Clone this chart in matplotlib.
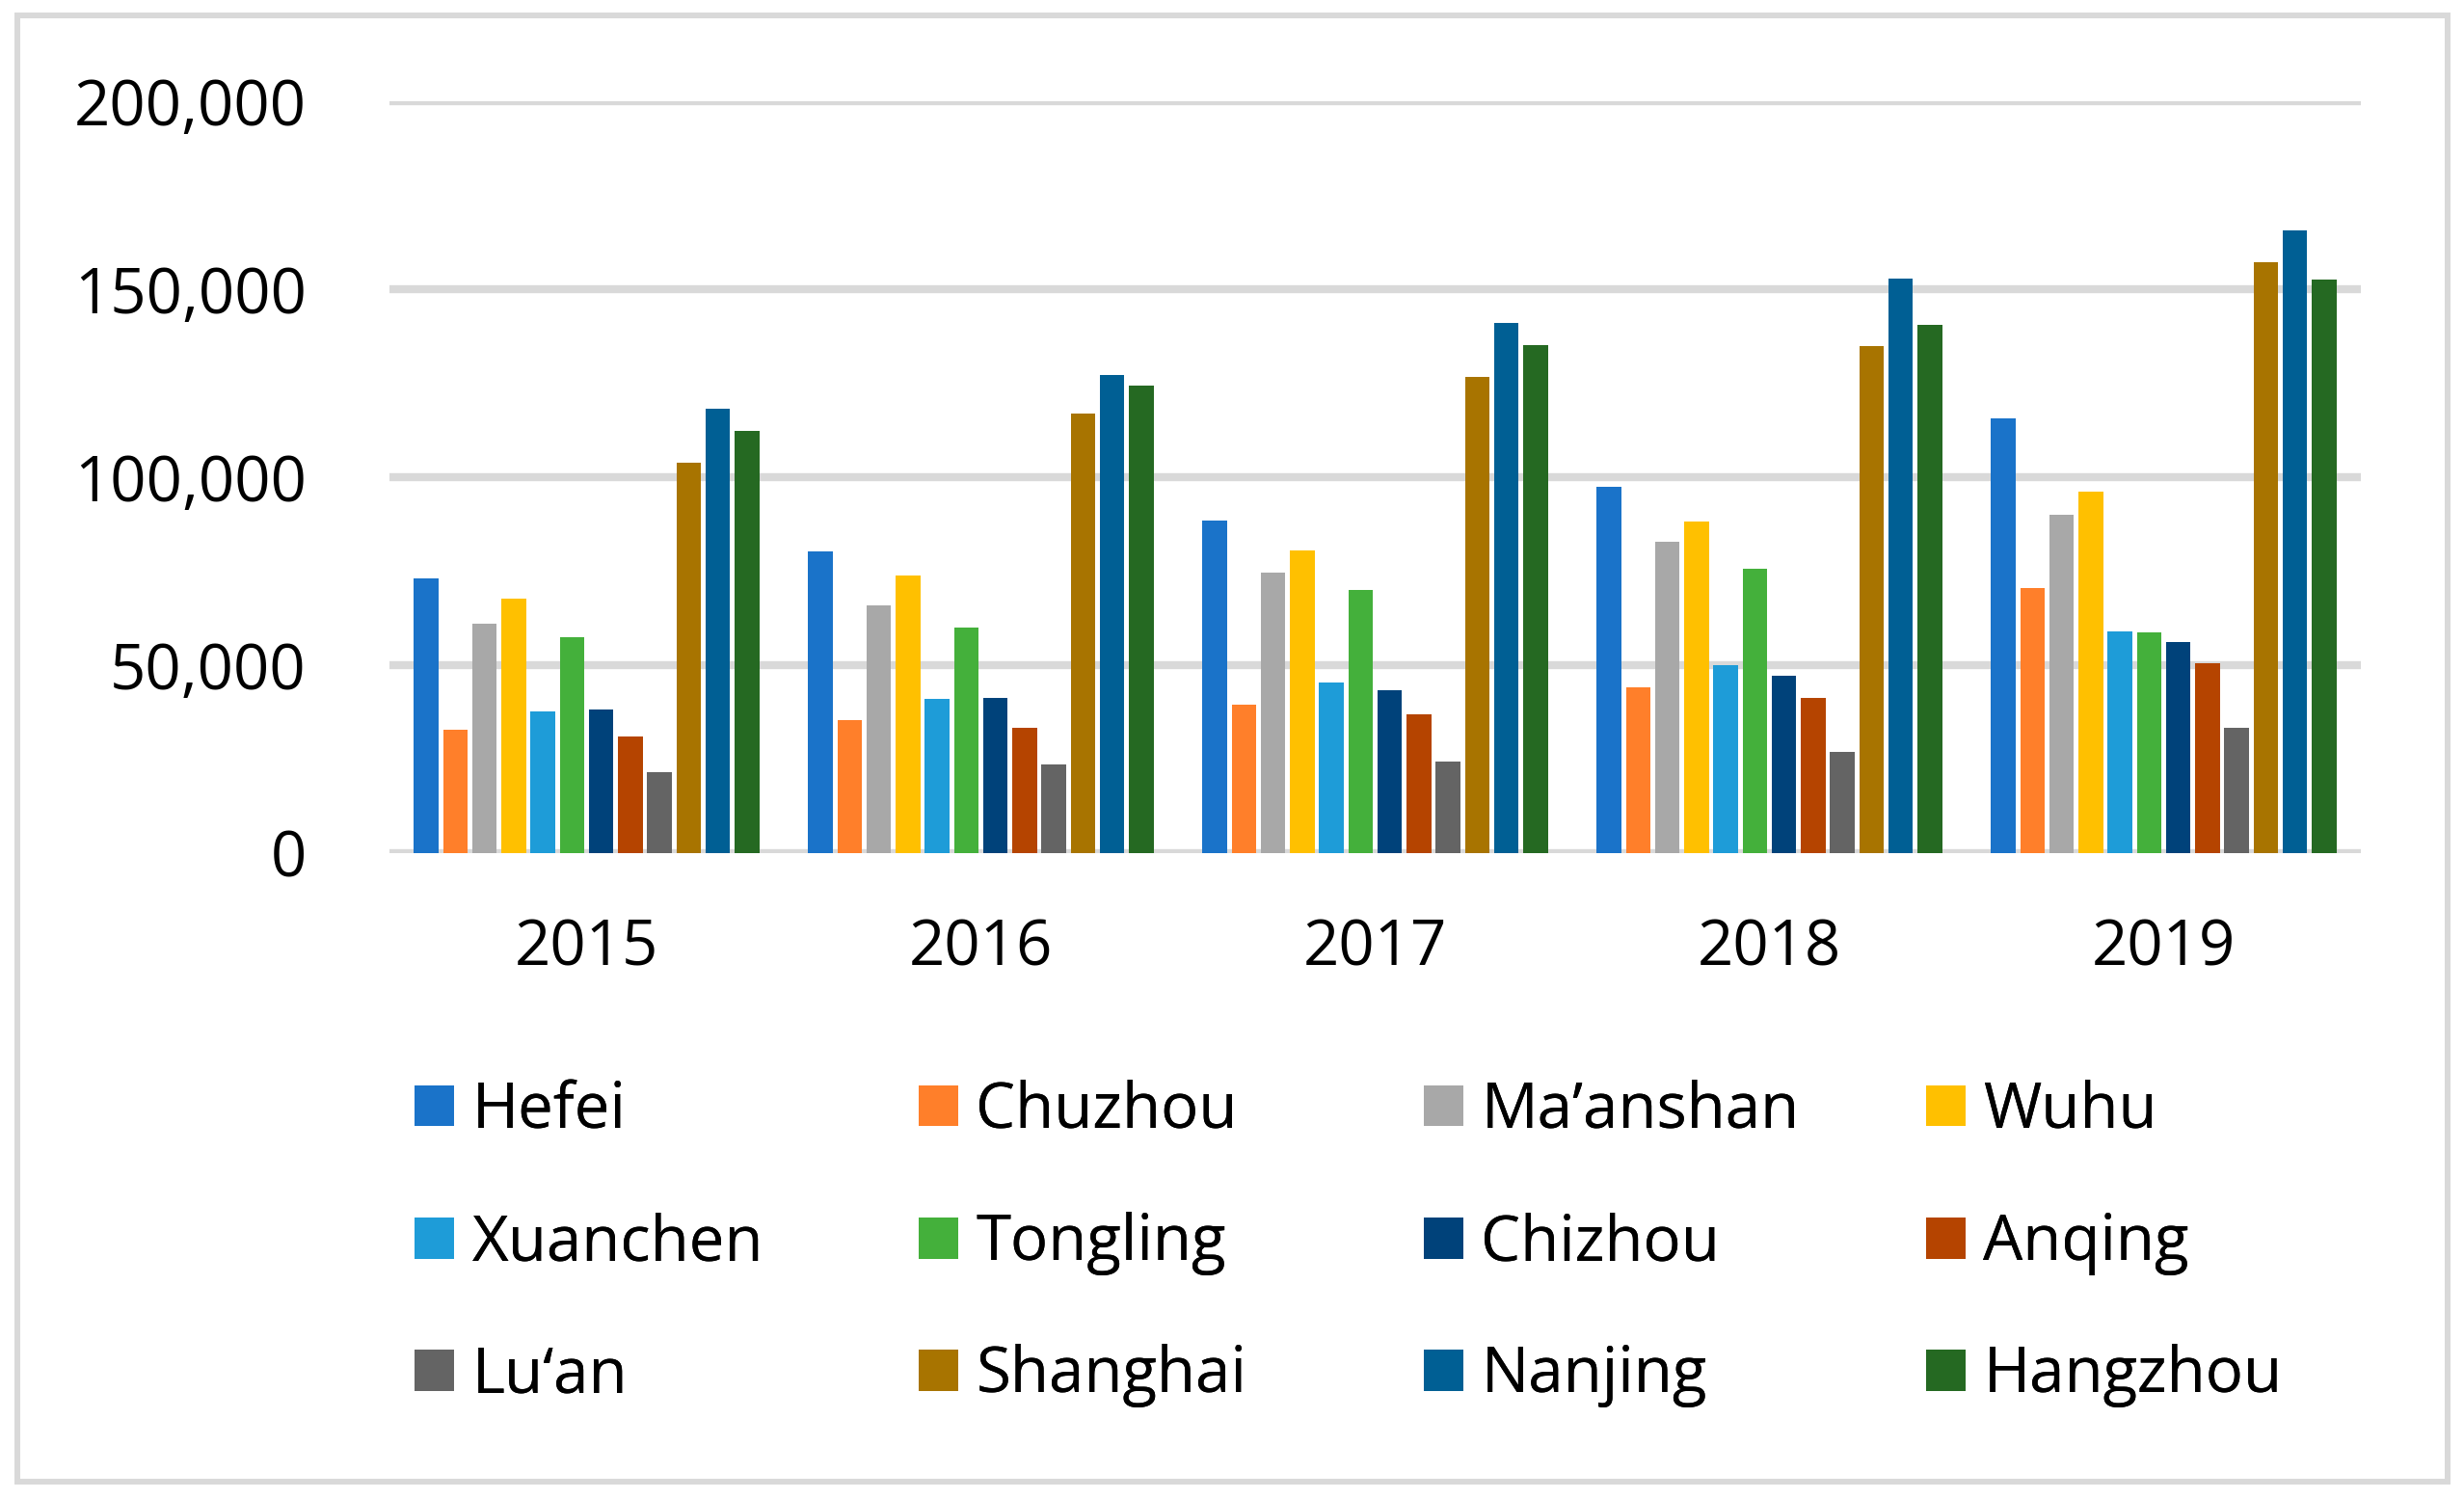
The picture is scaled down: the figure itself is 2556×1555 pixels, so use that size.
import numpy as np
import matplotlib
matplotlib.use("Agg")
import matplotlib.pyplot as plt
from matplotlib.patches import Rectangle, Patch
from matplotlib.ticker import FuncFormatter

years = ["2015", "2016", "2017", "2018", "2019"]
cities = ["Hefei", "Chuzhou", "Ma\u2019anshan", "Wuhu",
          "Xuanchen", "Tongling", "Chizhou", "Anqing",
          "Lu\u2018an", "Shanghai", "Nanjing", "Hangzhou"]
colors = ["#1a73c9", "#ff7f2a", "#a8a8a8", "#ffc000",
          "#1e9cd8", "#44b03b", "#00427a", "#b54400",
          "#646464", "#a87400", "#005f94", "#256922"]

hefei = [73200, 80300, 88500, 97500, 115700]
chuzhou = [32700, 35500, 39500, 44200, 70600]
maanshan = [60900, 66000, 74700, 82800, 90100]
wuhu = [67800, 73900, 80600, 88200, 96200]
xuanchen = [37800, 40900, 45400, 50100, 59000]
tongling = [57500, 60100, 70100, 75700, 58800]
chizhou = [38100, 41200, 43400, 47100, 56200]
anqing = [31100, 33400, 37000, 41200, 50500]
luan = [21600, 23500, 24400, 26800, 33400]
shanghai = [103900, 116800, 126700, 134900, 157200]
nanjing = [118200, 127200, 141000, 152800, 165700]
hangzhou = [112300, 124400, 135100, 140400, 152500]

series = [hefei, chuzhou, maanshan, wuhu, xuanchen, tongling,
          chizhou, anqing, luan, shanghai, nanjing, hangzhou]

plt.rcParams['font.family'] = ['Open Sans', 'DejaVu Sans']

fig = plt.figure(figsize=(25.56, 15.55), dpi=100)
ax = fig.add_axes([404 / 2556, 1 - 885 / 1555, (2449 - 404) / 2556, (885 - 105) / 1555])

x = np.arange(len(years))
pitch = 0.074
width = 0.062
for i, vals in enumerate(series):
    ax.bar(x + (i - 5.5) * pitch, vals, width=width, color=colors[i],
           label=cities[i], zorder=3)

ax.set_xlim(-0.5, 4.5)
ax.set_ylim(0, 200000)
ax.set_yticks([0, 50000, 100000, 150000, 200000])
ax.yaxis.set_major_formatter(FuncFormatter(lambda v, p: f"{int(v):,}"))
ax.set_xticks(x)
ax.set_xticklabels(years)
ax.grid(axis="y", color="#d9d9d9", linewidth=6, zorder=0)
ax.set_axisbelow(True)
for s in ax.spines.values():
    s.set_visible(False)
ax.tick_params(axis="both", length=0, labelsize=47, colors="black")
ax.tick_params(axis="y", pad=62)
ax.tick_params(axis="x", pad=48)

# legend: four columns with even pitch, like the office chart
col_x = [430, 953, 1477, 1998]
for c in range(4):
    idx = [c, c + 4, c + 8]
    handles = [Patch(facecolor=colors[k], label=cities[k]) for k in idx]
    leg = fig.legend(handles=handles, loc="upper left",
                     bbox_to_anchor=(col_x[c] / 2556, 1 - 1120 / 1555),
                     frameon=False, fontsize=47, borderpad=0, borderaxespad=0,
                     handlelength=0.63, handleheight=0.63, handletextpad=0.28,
                     labelspacing=1.09)
    fig.add_artist(leg)

fig.patches.append(Rectangle((18 / 2556, 1 - 1537 / 1555), (2539 - 18) / 2556,
                             (1537 - 16) / 1555, transform=fig.transFigure,
                             fill=False, edgecolor="#d9d9d9", linewidth=4.3))

fig.savefig("out.png", dpi=100, facecolor="white")
